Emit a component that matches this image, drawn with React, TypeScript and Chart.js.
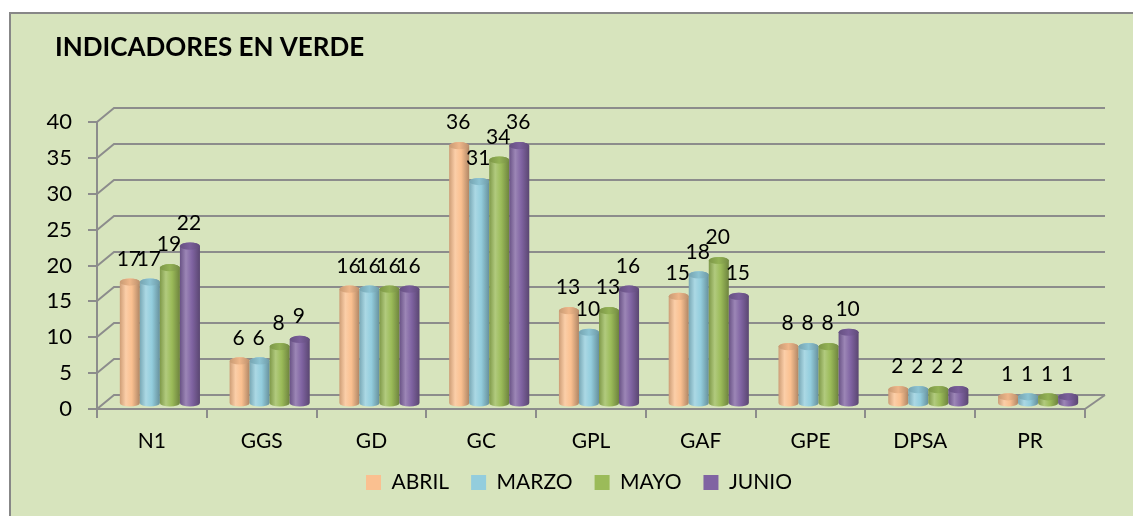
import React, { useEffect, useRef } from 'react';
import { Chart, registerables } from 'chart.js';

Chart.register(...registerables);

const categories = ['N1', 'GGS', 'GD', 'GC', 'GPL', 'GAF', 'GPE', 'DPSA', 'PR'];
const abril = [17, 6, 16, 36, 13, 15, 8, 2, 1];
const marzo = [17, 6, 16, 31, 10, 18, 8, 2, 1];
const mayo = [19, 8, 16, 34, 13, 20, 8, 2, 1];
const junio = [22, 9, 16, 36, 16, 15, 10, 2, 1];
const seriesLabels = ['ABRIL', 'MARZO', 'MAYO', 'JUNIO'];
const seriesValues = [abril, marzo, mayo, junio];
const seriesColors = ['#FAC090', '#93CDDD', '#9BBB59', '#8064A2'];
const yMin = 0;
const yMax = 40;
const yStep = 5;
const chartTitle = 'INDICADORES EN VERDE';

const FONT = 'Lato, "Open Sans", sans-serif';
const BG = '#D7E4BD';
const GRID = '#8C8C8C';

// 3D look
const WALL_DX_L = 17;
const WALL_DX_R = 20;
const WALL_DY = -14;
const BAR_DX = 8;
const BAR_DY = -5;

function shade(hex: string, amt: number): string {
  const n = parseInt(hex.slice(1), 16);
  const c = [(n >> 16) & 255, (n >> 8) & 255, n & 255];
  const t = amt < 0 ? 0 : 255;
  const p = Math.abs(amt);
  const o = c.map((v) => Math.round(v + (t - v) * p));
  return `rgb(${o[0]},${o[1]},${o[2]})`;
}

function drawCylinder(ctx: CanvasRenderingContext2D, cx: number, top: number, base: number, w: number, color: string) {
  const rx = w / 2;
  const ry = Math.max(2.5, w * 0.18);
  const g = ctx.createLinearGradient(cx - rx, 0, cx + rx, 0);
  g.addColorStop(0, shade(color, -0.18));
  g.addColorStop(0.3, shade(color, 0.22));
  g.addColorStop(0.6, color);
  g.addColorStop(1, shade(color, -0.3));
  ctx.fillStyle = g;
  ctx.beginPath();
  ctx.moveTo(cx - rx, top);
  ctx.lineTo(cx - rx, base);
  ctx.ellipse(cx, base, rx, ry, 0, Math.PI, 0, true);
  ctx.lineTo(cx + rx, top);
  ctx.ellipse(cx, top, rx, ry, 0, 0, Math.PI, true);
  ctx.closePath();
  ctx.fill();
  const gt = ctx.createLinearGradient(cx - rx, 0, cx + rx, 0);
  gt.addColorStop(0, shade(color, -0.2));
  gt.addColorStop(0.5, shade(color, -0.05));
  gt.addColorStop(1, shade(color, -0.25));
  ctx.fillStyle = gt;
  ctx.beginPath();
  ctx.ellipse(cx, top, rx, ry, 0, 0, Math.PI * 2);
  ctx.fill();
}

const decorPlugin = {
  id: 'decor3d',
  beforeDraw(chart: any) {
    const { ctx, width, height } = chart;
    ctx.save();
    ctx.fillStyle = '#ffffff';
    ctx.fillRect(0, 0, width, height);
    ctx.fillStyle = BG;
    ctx.fillRect(9, 12, width - 9, height - 12);
    ctx.strokeStyle = '#878787';
    ctx.lineWidth = 2;
    ctx.beginPath();
    ctx.moveTo(10, height);
    ctx.lineTo(10, 13);
    ctx.lineTo(width, 13);
    ctx.stroke();
    ctx.fillStyle = '#000';
    ctx.font = `bold 26px ${FONT}`;
    ctx.textBaseline = 'middle';
    ctx.textAlign = 'left';
    ctx.fillText(chartTitle, 55, 48);
    ctx.restore();
  },
  beforeDatasetsDraw(chart: any) {
    const { ctx, chartArea, scales } = chart;
    const ys = scales.y;
    const { left, right, bottom } = chartArea;
    ctx.save();
    ctx.strokeStyle = GRID;
    ctx.lineWidth = 2;
    for (const t of ys.ticks) {
      const py = Math.round(ys.getPixelForValue(t.value));
      ctx.beginPath();
      ctx.moveTo(left, py);
      ctx.lineTo(left + WALL_DX_L, py + WALL_DY);
      ctx.lineTo(right + WALL_DX_R, py + WALL_DY);
      ctx.stroke();
    }
    ctx.beginPath();
    ctx.moveTo(right, bottom);
    ctx.lineTo(right + WALL_DX_R, bottom + WALL_DY);
    ctx.stroke();

    const n = chart.data.datasets.length;
    for (let i = 0; i < categories.length; i++) {
      for (let d = 0; d < n; d++) {
        const el = chart.getDatasetMeta(d).data[i];
        if (!el) continue;
        const p = el.getProps(['x', 'y', 'base', 'width'], true);
        drawCylinder(ctx, p.x + BAR_DX, p.y + BAR_DY, p.base + BAR_DY, p.width, seriesColors[d]);
      }
    }
    ctx.fillStyle = '#000';
    ctx.font = `21px ${FONT}`;
    ctx.textAlign = 'center';
    ctx.textBaseline = 'middle';
    for (let i = 0; i < categories.length; i++) {
      for (let d = 0; d < n; d++) {
        const el = chart.getDatasetMeta(d).data[i];
        if (!el) continue;
        const p = el.getProps(['x', 'y'], true);
        const v = chart.data.datasets[d].data[i];
        ctx.fillText(String(v), p.x + BAR_DX - 1, p.y + BAR_DY - 23);
      }
    }
    ctx.restore();
    return false;
  },
};

export default function App() {
  const ref = useRef<HTMLCanvasElement | null>(null);
  useEffect(() => {
    const canvas = ref.current;
    if (!canvas) return;
    const chart = new Chart(canvas, {
      type: 'bar',
      data: {
        labels: categories,
        datasets: seriesLabels.map((label, i) => ({
          label,
          data: seriesValues[i],
          backgroundColor: seriesColors[i],
          borderWidth: 0,
          barPercentage: 1,
          categoryPercentage: 0.73,
        })),
      },
      options: {
        responsive: false,
        animation: false,
        devicePixelRatio: 1,
        layout: { padding: { left: 38, right: 13, top: 122, bottom: 13 } },
        plugins: {
          title: { display: false },
          tooltip: { enabled: false },
          legend: {
            display: true,
            position: 'bottom',
            labels: {
              font: { family: FONT, size: 21 },
              color: '#000',
              boxWidth: 15,
              boxHeight: 15,
              padding: 22,
            },
          },
        },
        scales: {
          x: {
            offset: true,
            grid: { display: true, drawOnChartArea: false, drawTicks: true, tickLength: 9, color: GRID, lineWidth: 2, offset: true },
            border: { display: true, color: GRID, width: 2 },
            ticks: { font: { family: FONT, size: 21 }, color: '#000', padding: 11, maxRotation: 0, autoSkip: false },
            afterFit: (s: any) => { s.height = 41; },
          },
          y: {
            min: yMin,
            max: yMax,
            grid: { display: true, drawOnChartArea: false, drawTicks: true, tickLength: 9, color: GRID, lineWidth: 2 },
            border: { display: true, color: GRID, width: 2 },
            ticks: { stepSize: yStep, font: { family: FONT, size: 22 }, color: '#000', padding: 16 },
            afterFit: (s: any) => { s.width = 59; },
          },
          spacer: {
            type: 'linear',
            position: 'right',
            display: true,
            grid: { display: false },
            border: { display: false },
            ticks: { display: false },
            afterFit: (s: any) => { s.width = 35; },
          },
        },
      },
      plugins: [decorPlugin],
    } as any);
    return () => chart.destroy();
  }, []);
  return (
    <div style={{ position: 'fixed', left: 0, top: 0, width: 1133, height: 516 }}>
      <canvas ref={ref} width={1133} height={516} style={{ display: 'block' }} />
    </div>
  );
}
